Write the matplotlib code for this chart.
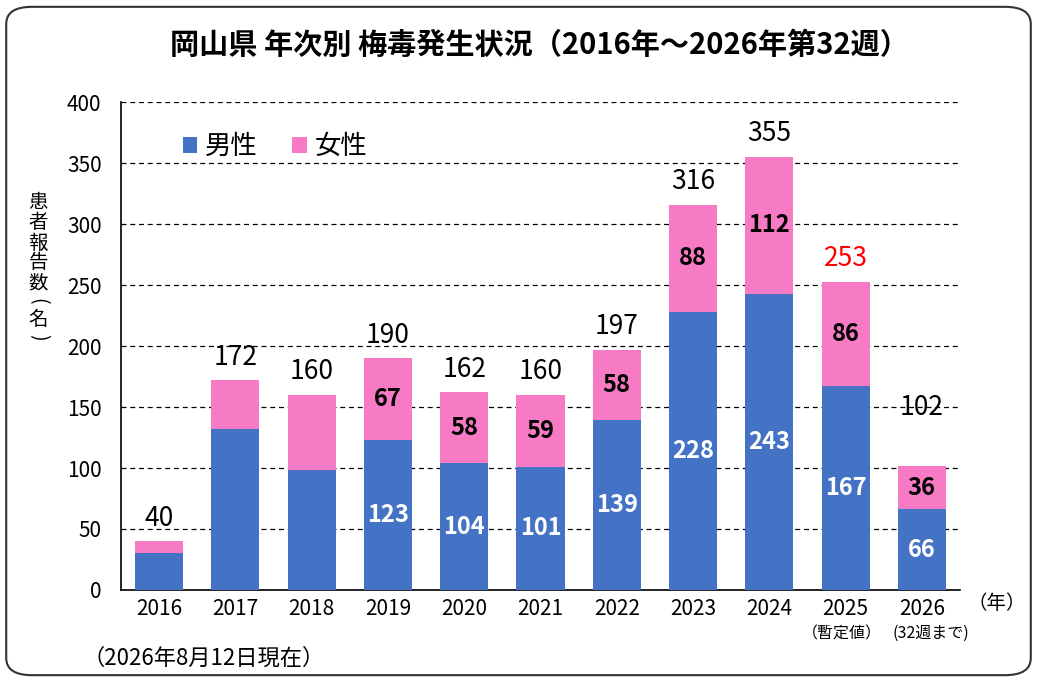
import matplotlib.pyplot as plt
from matplotlib.patches import FancyBboxPatch

plt.rcParams['font.family'] = ['Noto Sans CJK JP', 'DejaVu Sans']

years = ['2016', '2017', '2018', '2019', '2020', '2021', '2022', '2023', '2024', '2025', '2026']
male = [30, 132, 98, 123, 104, 101, 139, 228, 243, 167, 66]
female = [10, 40, 62, 67, 58, 59, 58, 88, 112, 86, 36]
inner_from = 3  # inner labels shown from 2019 on
sub_labels = {'2025': '（暫定値）', '2026': '(32週まで)'}

blue = '#4472C4'
pink = '#F67AC4'

fig = plt.figure(figsize=(10.37, 6.82), dpi=100)
ax = fig.add_axes([0.1167, 0.135, 0.809, 0.715])

x = range(len(years))
totals = [m + f for m, f in zip(male, female)]
ax.bar(x, male, width=0.63, color=blue, label='男性', zorder=3)
ax.bar(x, female, width=0.63, bottom=male, color=pink, label='女性', zorder=3)

for i in x:
    if i >= inner_from:
        ax.text(i, male[i] / 2, str(male[i]), ha='center', va='center',
                color='white', fontsize=17, fontweight='bold', zorder=4)
        ax.text(i, male[i] + female[i] / 2, str(female[i]), ha='center', va='center',
                color='black', fontsize=17, fontweight='bold', zorder=4)
    y = totals[i] + 19
    if years[i] == '2026':
        y = 150
    col = 'red' if years[i] == '2025' else 'black'
    ax.text(i, y, str(totals[i]), ha='center', va='center', fontsize=19, color=col, zorder=4)

ax.set_xlim(-0.5, len(years) - 0.5)
ax.set_ylim(0, 400)
ax.set_yticks(range(0, 401, 50))
ax.set_xticks(list(x))
ax.set_xticklabels(years)
ax.tick_params(axis='both', length=0, labelsize=15)
ax.tick_params(axis='x', pad=6)
ax.tick_params(axis='y', pad=14)
ax.yaxis.grid(True, linestyle=(0, (4, 3)), color='black', linewidth=0.9, zorder=0)
ax.spines['top'].set_visible(False)
ax.spines['right'].set_visible(False)
ax.spines['left'].set_linewidth(1.2)
ax.spines['bottom'].set_linewidth(1.2)

sub_dx = {'2025': -0.05, '2026': 0.12}
for i, y in enumerate(years):
    if y in sub_labels:
        ax.text(i + sub_dx[y], -0.09, sub_labels[y], transform=ax.get_xaxis_transform(),
                ha='center', va='center', fontsize=11.5)

ax.legend(loc='upper left', bbox_to_anchor=(0.045, 0.985), ncol=2, frameon=False,
          fontsize=19, handlelength=0.55, handleheight=0.55, handletextpad=0.3,
          columnspacing=1.3)

fig.text(0.52, 0.934, '岡山県 年次別 梅毒発生状況（2016年～2026年第32週）',
         ha='center', va='center', fontsize=21, fontweight='bold')

# vertical y-axis title, one character per line
ylab = ['患', '者', '報', '告', '数', '(', '名', ')']
ypix = [203, 223, 243, 263, 283, 301, 319, 337]
for ch, yp in zip(ylab, ypix):
    rot = -90 if ch in '()' else 0
    fig.text(38 / 1037, 1 - yp / 682, ch, ha='center', va='center',
             fontsize=14, rotation=rot)

fig.text(0.080, 0.035, '（2026年8月12日現在）', ha='left', va='center', fontsize=16)
fig.text(0.961, 0.115, '（年）', ha='center', va='center', fontsize=14)

fig.patches.append(FancyBboxPatch((0.006, 0.01), 0.988, 0.98,
                                  boxstyle='round,pad=0,rounding_size=0.025',
                                  transform=fig.transFigure, fill=False,
                                  edgecolor='#333333', linewidth=1.5))

fig.savefig('out.png', dpi=100)
